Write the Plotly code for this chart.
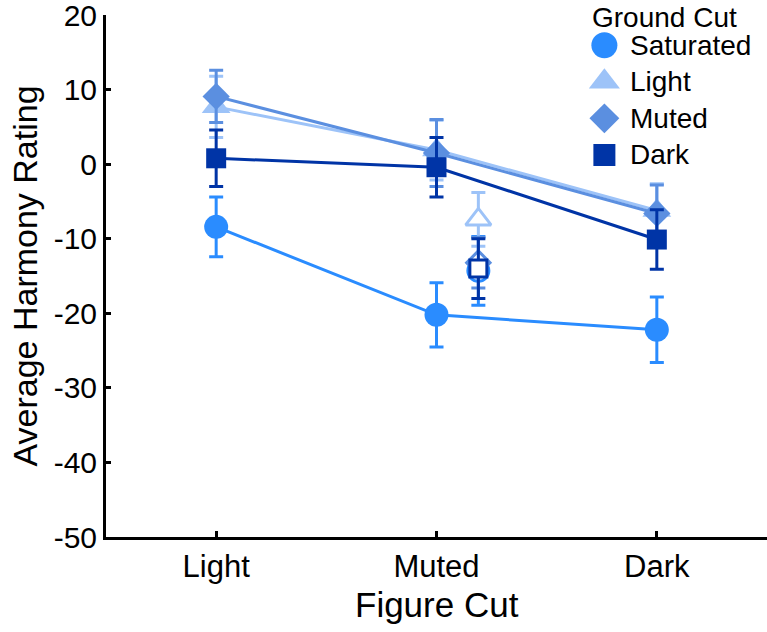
import plotly.graph_objects as go

figure_cuts = ["Light", "Muted", "Dark"]
ground_cuts = ["Saturated", "Light", "Muted", "Dark"]

sat_mean = [-8.4, -20.2, -22.2]
sat_err = [4.0, 4.3, 4.4]
light_mean = [7.7, 1.9, -6.2]
light_err = [4.1, 4.0, 3.6]
muted_mean = [9.1, 1.5, -6.6]
muted_err = [3.5, 4.5, 3.8]
dark_mean = [0.8, -0.4, -10.1]
dark_err = [3.8, 4.0, 4.0]

# open (control) markers, shown beside the "Muted" figure cut
open_pos = 2.19
open_mean = [-14.3, -7.4, -13.2, -14.0]
open_err = [4.6, 3.6, 3.4, 4.0]

y_ticks = [-50, -40, -30, -20, -10, 0, 10, 20]
y_ticklabels = ["-50", "-40", "-30", "-20", "-10", "0", "10", "20"]

colors = ["#2a8cff", "#9dc3f8", "#5b8fe0", "#0034a6"]
symbols = ["circle", "triangle-up", "diamond", "square"]
sizes = [24, 25, 21, 20]

means = [sat_mean, light_mean, muted_mean, dark_mean]
errs = [sat_err, light_err, muted_err, dark_err]

FONT = "Liberation Sans, Arial, Helvetica, sans-serif"
xs = list(range(1, len(figure_cuts) + 1))

fig = go.Figure()

for i, name in enumerate(ground_cuts):
    fig.add_trace(go.Scatter(
        x=xs, y=means[i], mode="lines+markers", name=name,
        line=dict(color=colors[i], width=3),
        marker=dict(symbol=symbols[i], size=sizes[i], color=colors[i],
                    line=dict(width=0)),
        error_y=dict(type="data", array=errs[i], color=colors[i],
                     thickness=3, width=7),
        showlegend=False,
    ))

for i, name in enumerate(ground_cuts):
    fig.add_trace(go.Scatter(
        x=[open_pos], y=[open_mean[i]], mode="markers", name=name,
        marker=dict(symbol=symbols[i], size=sizes[i] - 3, color="white",
                    line=dict(width=3, color=colors[i])),
        error_y=dict(type="data", array=[open_err[i]], color=colors[i],
                     thickness=3, width=7),
        showlegend=False,
    ))

# legend drawn on an overlay axis
for i, name in enumerate(ground_cuts):
    fig.add_trace(go.Scatter(
        x=[0.18], y=[i], mode="markers", xaxis="x2", yaxis="y2",
        marker=dict(symbol=symbols[i], size=sizes[i] + 2, color=colors[i],
                    line=dict(width=0)),
        showlegend=False, hoverinfo="skip",
    ))
    fig.add_annotation(x=0.18, y=i, xref="x2", yref="y2", text=name,
                       showarrow=False, xanchor="left", yanchor="middle",
                       xshift=24, font=dict(size=28, color="black", family=FONT))

fig.add_annotation(x=0.732, y=0.996, xref="paper", yref="paper",
                   text="Ground Cut", showarrow=False, xanchor="left",
                   yanchor="middle", font=dict(size=28, color="black", family=FONT))

# x-axis title
fig.add_annotation(x=0.5, y=0, xref="paper", yref="paper", yshift=-67,
                   text="Figure Cut", showarrow=False, xanchor="center",
                   yanchor="middle", font=dict(size=35, color="black", family=FONT))

fig.update_layout(
    width=767, height=632,
    margin=dict(l=106, r=0, t=15, b=95),
    plot_bgcolor="white", paper_bgcolor="white",
    font=dict(family=FONT, size=30, color="black"),
    xaxis=dict(range=[0.5, 3.5], tickvals=xs, ticktext=figure_cuts,
               showline=True, linecolor="black", linewidth=3,
               ticks="inside", ticklen=6, tickwidth=2.5, tickcolor="black",
               showgrid=False, zeroline=False, automargin=False,
               tickfont=dict(size=31)),
    yaxis=dict(range=[-50, 20.02], tickvals=y_ticks, ticktext=y_ticklabels,
               showline=True, linecolor="black", linewidth=3,
               ticks="inside", ticklen=5, tickwidth=2.5, tickcolor="black",
               showgrid=False, zeroline=False, automargin=False,
               ticklabeloverflow="allow",
               tickfont=dict(size=30),
               title=dict(text="Average Harmony Rating", font=dict(size=34), standoff=6)),
    xaxis2=dict(domain=[0.7, 1.0], range=[0, 1], visible=False,
                anchor="y2", fixedrange=True),
    yaxis2=dict(domain=[0.697, 0.977], range=[3.5, -0.5], visible=False,
                anchor="x2", fixedrange=True),
    showlegend=False,
)

fig.write_html("out.html",
               config={"displayModeBar": False},
               post_script="document.body.style.margin='0px';document.body.style.overflow='hidden';")
